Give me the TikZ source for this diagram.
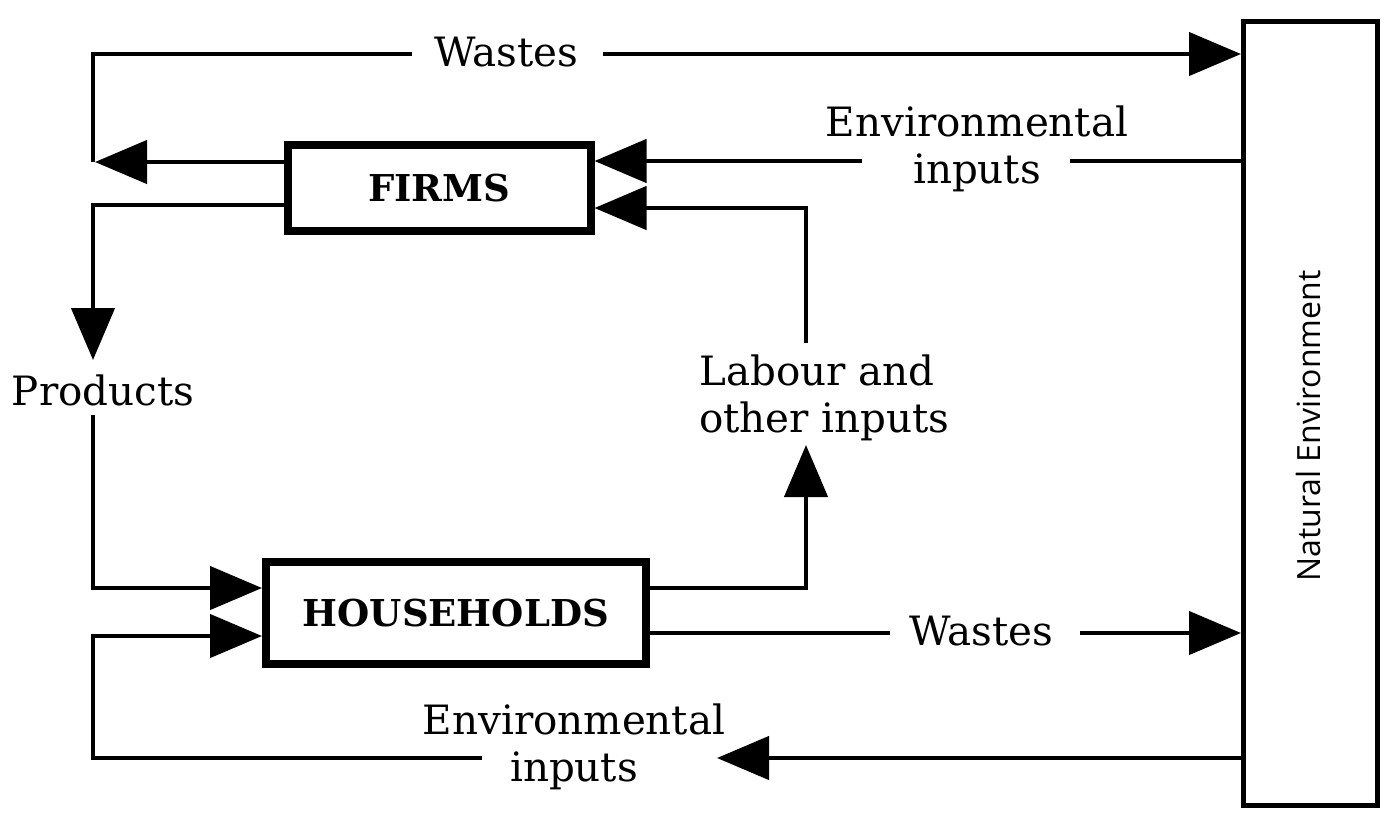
\documentclass[tikz,border=0pt]{standalone}
\usepackage{fontspec}
\setmainfont{DejaVu Serif}
\newfontfamily\nesans{Open Sans}
\usetikzlibrary{arrows.meta}

\begin{document}
\begin{tikzpicture}[x=0.5pt, y=-0.5pt, line width=2.25pt,
    flow/.style={-{Triangle[length=26pt,width=21.5pt]}},
    agent/.style={draw, line width=4pt, inner sep=0pt,
      font=\fontsize{18.5}{22}\selectfont\bfseries},
    envbox/.style={draw, line width=2.5pt, inner sep=0pt},
    lbl/.style={inner sep=0pt, font=\fontsize{20.2}{23.5}\selectfont}]
    \useasboundingbox (0,0) rectangle (1399,827);
    % boxes
    \node[envbox, minimum width=67pt, minimum height=391.75pt] (natenv) at (1310.5,413.25) {};
    \node[rotate=90, inner sep=0pt, font=\nesans\fontsize{16}{19}\selectfont] (nelabel) at (1308,426) {Natural Environment};
    \node[agent, minimum width=151.5pt, minimum height=43.25pt] (firms) at (439,187.75) {FIRMS};
    \node[agent, minimum width=189.75pt, minimum height=51.25pt] (hh) at (455.75,612.75) {HOUSEHOLDS};
    % labels (base = last line)
    \node[lbl, anchor=base] (wtop) at (506,66.7) {Wastes};
    \node[lbl, anchor=base] (wbot) at (981,645) {Wastes};
    \node[lbl, anchor=base] (prod) at (103,405) {Products};
    \node[lbl, align=center, anchor=base] (envtop) at (977,183) {Environmental\\inputs};
    \node[lbl, align=left, anchor=base west] (labour) at (697,432) {Labour and\\other inputs};
    \node[lbl, align=center, anchor=base] (envbot) at (574,781) {Environmental\\inputs};
    % turning points and line ends
    \coordinate (c0) at (93,54);
    \coordinate (c1) at (93,162);
    \coordinate (w1) at (412,54);
    \coordinate (w2) at (603,54);
    \coordinate (fe1) at (1070,161);
    \coordinate (fe2) at (862,161);
    \coordinate (p0) at (93,205);
    \coordinate (p1) at (93,360);
    \coordinate (p2) at (93,415);
    \coordinate (p3) at (93,588);
    \coordinate (l0) at (806,588);
    \coordinate (l1) at (806,445);
    \coordinate (l2) at (806,343);
    \coordinate (l3) at (806,208);
    \coordinate (hw1) at (890,633);
    \coordinate (hw2) at (1080,633);
    \coordinate (e0) at (93,758);
    \coordinate (e1) at (93,636);
    \coordinate (e2) at (482,758);
    \coordinate (e3) at (717,758);
    % wastes of firms
    \draw[flow] (firms.west |- c1) -- ([xshift=1pt]c1);
    \draw (c1) -- (c0) -- (w1);
    \draw[flow] (w2) -- (natenv.west |- w2);
    % environmental inputs to firms
    \draw (natenv.west |- fe1) -- (fe1);
    \draw[flow] (fe2) -- (firms.east |- fe2);
    % products
    \draw[flow] (firms.west |- p0) -- (p0) -- (p1);
    \draw[flow] (p2) -- (p3) -- (hh.west |- p3);
    % labour and other inputs
    \draw[flow] (hh.east |- l0) -- (l0) -- (l1);
    \draw[flow] (l2) -- (l3) -- (firms.east |- l3);
    % wastes of households
    \draw (hh.east |- hw1) -- (hw1);
    \draw[flow] (hw2) -- (natenv.west |- hw2);
    % environmental inputs to households
    \draw[flow] (natenv.west |- e3) -- (e3);
    \draw[flow] (e2) -- (e0) -- (e1) -- (hh.west |- e1);
\end{tikzpicture}
\end{document}
